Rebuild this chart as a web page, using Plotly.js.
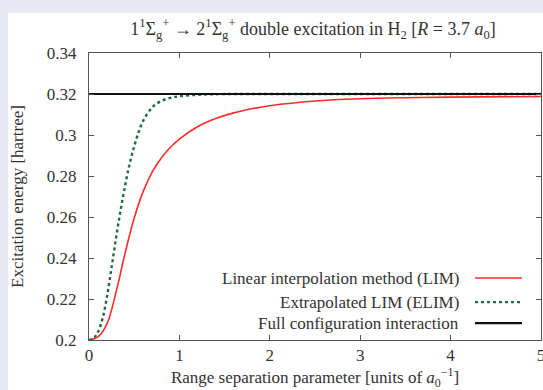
<!DOCTYPE html>
<html>
<head>
<meta charset="utf-8">
<script src="https://cdn.plot.ly/plotly-3.0.1.min.js"></script>
<style>
  html, body { margin: 0; padding: 0; background: #e6e9f2; width: 543px; height: 390px; overflow: hidden; }
  #chart { position: absolute; left: 8px; top: 13px; width: 535px; height: 377px; background: #ffffff; overflow: hidden; }
</style>
</head>
<body>
<div id="chart"></div>
<script>
// Data
const limX = [0, 0.1, 0.2, 0.3, 0.4, 0.5, 0.6, 0.7, 0.8, 0.9, 1.0, 1.2, 1.4, 1.6, 1.8, 2.0, 2.5, 3.0, 3.5, 4.0, 5.0];
const limY = [0.2, 0.2015, 0.208, 0.2235, 0.2425, 0.2595, 0.2725, 0.282, 0.2888, 0.294, 0.298, 0.304, 0.308, 0.3108, 0.3128, 0.3143, 0.3166, 0.3177, 0.3182, 0.3185, 0.3188];

const elimX = [0, 0.05, 0.1, 0.15, 0.2, 0.25, 0.3, 0.35, 0.4, 0.45, 0.5, 0.55, 0.6, 0.7, 0.8, 0.9, 1.0, 1.2, 1.4, 1.7, 2.5, 3.5, 5.0];
const elimY = [0.2, 0.2008, 0.204, 0.2105, 0.2215, 0.2355, 0.25, 0.2635, 0.2755, 0.286, 0.2945, 0.3015, 0.307, 0.3135, 0.3166, 0.3181, 0.3189, 0.3196, 0.3199, 0.32, 0.32, 0.32, 0.32];

const fciX = [0, 5];
const fciY = [0.32, 0.32];

const seriesNames = ["Linear interpolation method (LIM)", "Extrapolated LIM (ELIM)", "Full configuration interaction"];
const xTicks = [0, 1, 2, 3, 4, 5];
const yTicks = [0.2, 0.22, 0.24, 0.26, 0.28, 0.3, 0.32, 0.34];
const yTickText = ["0.2", "0.22", "0.24", "0.26", "0.28", "0.3", "0.32", "0.34"];

const FONT = "Liberation Serif, Times New Roman, serif";
const TXT = "#333333";
const FS = 17;
const colors = ["#ff2a2a", "#1e6b3c", "#111111"];
const widths = [1.6, 2.4, 2.2];
const dashes = ["solid", "dot", "solid"];

const traces = [
  { x: limX, y: limY, mode: "lines", name: seriesNames[0], line: { color: colors[0], width: widths[0], shape: "spline", smoothing: 1 } },
  { x: elimX, y: elimY, mode: "lines", name: seriesNames[1], line: { color: colors[1], width: widths[1], dash: dashes[1], shape: "spline", smoothing: 1 } },
  { x: fciX, y: fciY, mode: "lines", name: seriesNames[2], line: { color: colors[2], width: widths[2] } }
];

// legend drawn gnuplot-style: right-aligned text, sample line to its right
const legY = [0.216, 0.132, 0.059];
const annotations = seriesNames.map((n, i) => ({
  xref: "paper", yref: "paper", x: 0.822, y: legY[i], xanchor: "right", yanchor: "middle",
  text: n, showarrow: false, font: { family: FONT, size: FS, color: TXT }
}));
const shapes = seriesNames.map((n, i) => ({
  type: "line", xref: "paper", yref: "paper", x0: 0.854, x1: 0.958, y0: legY[i], y1: legY[i],
  line: { color: colors[i], width: widths[i], dash: dashes[i] }
}));

const layout = {
  width: 535, height: 377,
  margin: { l: 81, r: 2, t: 40, b: 50 },
  paper_bgcolor: "#ffffff", plot_bgcolor: "#ffffff",
  showlegend: false,
  font: { family: FONT, size: FS, color: TXT },
  title: {
    text: "1<sup>1</sup>Σ<sub>g</sub><sup>+</sup> → 2<sup>1</sup>Σ<sub>g</sub><sup>+</sup> double excitation in H<sub>2</sub> [<i>R</i> = 3.7 <i>a</i><sub>0</sub>]",
    font: { family: FONT, size: 18, color: TXT },
    x: 0.57, xanchor: "center", y: 0.975, yref: "container", yanchor: "top"
  },
  xaxis: {
    range: [0, 5], tickvals: xTicks, ticktext: xTicks.map(String),
    ticks: "inside", ticklen: 5, tickcolor: "#555", mirror: "allticks",
    showline: true, linecolor: "#555", linewidth: 1, showgrid: false, zeroline: false,
    ticklabeloverflow: "allow",
    tickfont: { family: FONT, size: FS, color: TXT },
    title: { text: "Range separation parameter [units of <i>a</i><sub>0</sub><sup>−1</sup>]", font: { family: FONT, size: FS, color: TXT }, standoff: 4 }
  },
  yaxis: {
    range: [0.2, 0.34], tickvals: yTicks, ticktext: yTickText,
    ticks: "inside", ticklen: 5, tickcolor: "#555", mirror: "allticks",
    showline: true, linecolor: "#555", linewidth: 1, showgrid: false, zeroline: false,
    ticklabelstandoff: 8,
    tickfont: { family: FONT, size: FS, color: TXT },
    title: { text: "Excitation energy [hartree]", font: { family: FONT, size: FS, color: TXT }, standoff: 21 }
  },
  annotations: annotations,
  shapes: shapes
};

Plotly.newPlot("chart", traces, layout, { displayModeBar: false, staticPlot: true });
</script>
</body>
</html>
